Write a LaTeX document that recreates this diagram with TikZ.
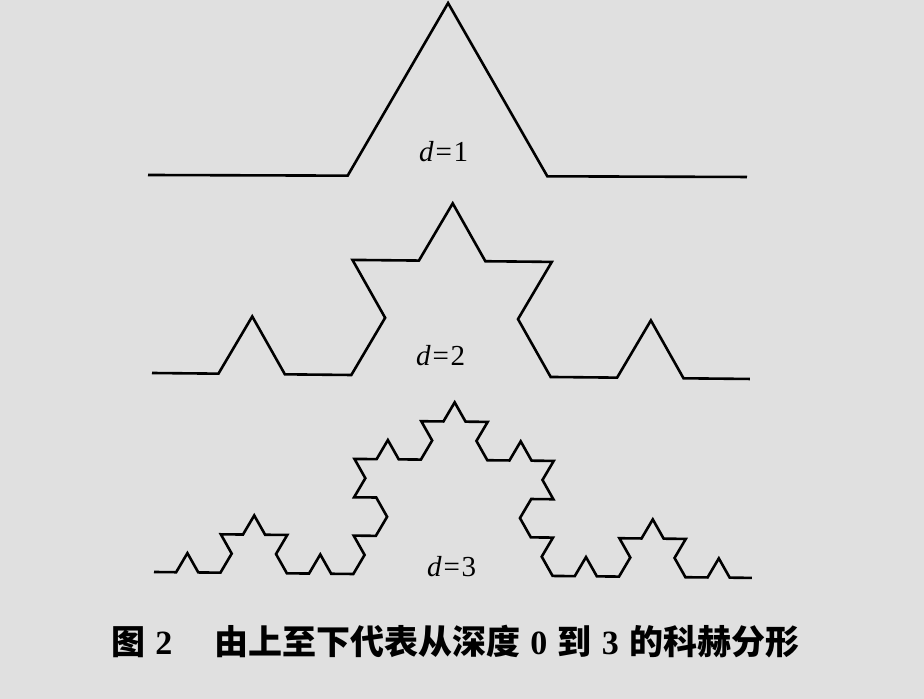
\documentclass[tikz,border=0pt]{standalone}
\usepackage{fontspec}
\setmainfont{Liberation Serif}
\newfontfamily\cjk{Noto Sans CJK SC}
\newfontfamily\digf{Liberation Serif}
\usetikzlibrary{lindenmayersystems}
\definecolor{bg}{RGB}{224,224,224}
\tikzset{
  koch/.style={draw=black, line width=2.6pt},
  lbl/.style={font=\fontsize{29}{31}\selectfont, inner sep=0pt, anchor=base west},
  captext/.style={font=\fontsize{34}{36}\selectfont\cjk\bfseries, inner sep=0pt, anchor=base west}
}
\begin{document}
\begin{tikzpicture}[x=1pt,y=1pt]
  \fill[bg] (0,0) rectangle (924,699);
  \useasboundingbox (0,0) rectangle (924,699);
  % d = 1
  \draw[koch, shift={(148,524)}, rotate=-0.19,
    l-system={rule set={F -> F+F--F+F}, axiom=F, order=1, step=199.67pt, angle=60}]
    lindenmayer system;
  % d = 2
  \draw[koch, shift={(152,326)}, rotate=-0.575,
    l-system={rule set={F -> F+F--F+F}, axiom=F, order=2, step=66.45pt, angle=60}]
    lindenmayer system;
  % d = 3
  \draw[koch, shift={(154,127)}, rotate=-0.575,
    l-system={rule set={F -> F+F--F+F}, axiom=F, order=3, step=22.15pt, angle=60}]
    lindenmayer system;
  \node (l1) [lbl] at (419,537) {\textit{d}\hspace{0.06em}=\hspace{0.06em}1};
  \node (l2) [lbl] at (416,333) {\textit{d}\hspace{0.06em}=\hspace{0.06em}2};
  \node (l3) [lbl] at (427,122) {\textit{d}\hspace{0.06em}=\hspace{0.06em}3};
  \node (cap) [captext] at (111,44) {图\hspace{0.3em}{\digf\bfseries 2}\hspace{1.23em}由上至下代表从深度\hspace{0.3em}{\digf\bfseries 0}\hspace{0.3em}到\hspace{0.3em}{\digf\bfseries 3}\hspace{0.3em}的科赫分形};
\end{tikzpicture}
\end{document}
